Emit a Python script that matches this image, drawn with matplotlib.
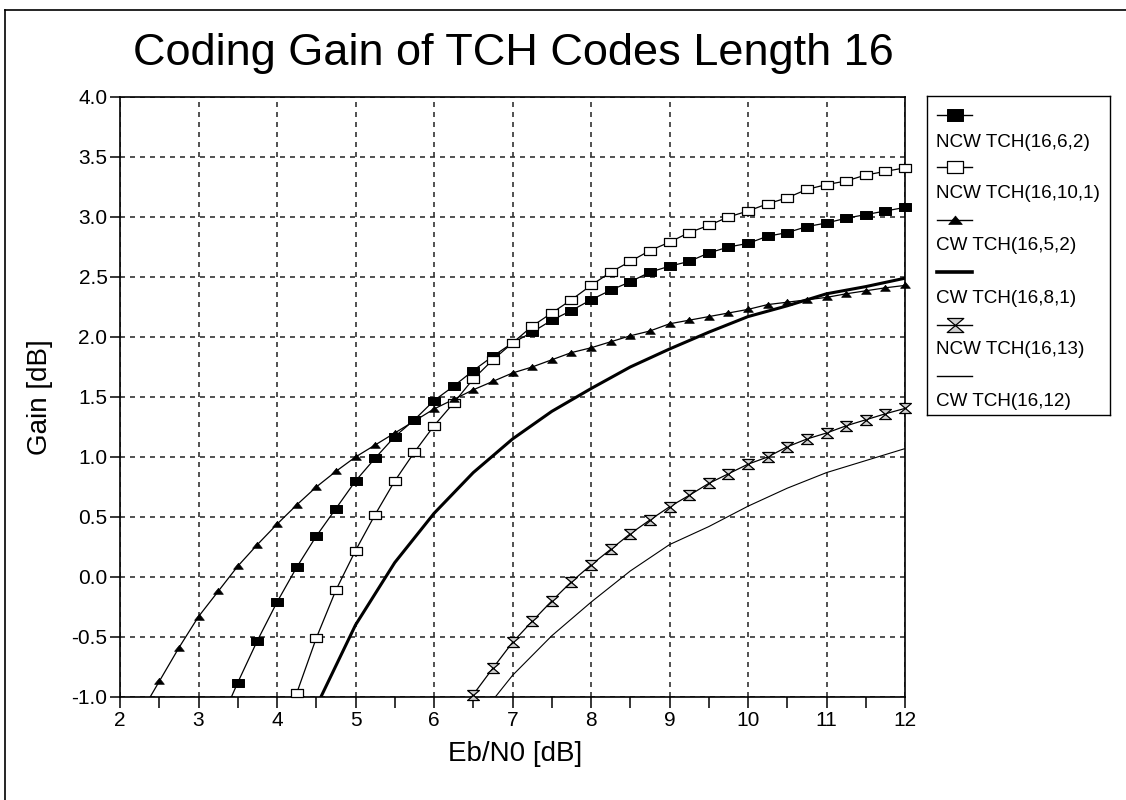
import numpy as np
import matplotlib
matplotlib.use("Agg")
import matplotlib.pyplot as plt
from matplotlib.lines import Line2D

plt.rcParams["font.family"] = ["Liberation Sans", "DejaVu Sans"]

# Eb/N0 [dB] grids and coding gain [dB] per code
x_ncw_6_2 = [3.25, 3.5, 3.75, 4.0, 4.25, 4.5, 4.75, 5.0, 5.25, 5.5, 5.75, 6.0,
             6.25, 6.5, 6.75, 7.0, 7.25, 7.5, 7.75, 8.0, 8.25, 8.5, 8.75, 9.0,
             9.25, 9.5, 9.75, 10.0, 10.25, 10.5, 10.75, 11.0, 11.25, 11.5, 11.75, 12.0]
y_ncw_6_2 = [-1.25, -0.88, -0.53, -0.21, 0.08, 0.34, 0.57, 0.80, 0.99, 1.17, 1.31, 1.47,
             1.59, 1.72, 1.84, 1.95, 2.04, 2.14, 2.22, 2.31, 2.39, 2.46, 2.54, 2.59,
             2.63, 2.70, 2.75, 2.78, 2.84, 2.87, 2.92, 2.95, 2.99, 3.02, 3.05, 3.08]

x_ncw_10_1 = [4.0, 4.25, 4.5, 4.75, 5.0, 5.25, 5.5, 5.75, 6.0, 6.25, 6.5, 6.75,
              7.0, 7.25, 7.5, 7.75, 8.0, 8.25, 8.5, 8.75, 9.0, 9.25, 9.5, 9.75,
              10.0, 10.25, 10.5, 10.75, 11.0, 11.25, 11.5, 11.75, 12.0]
y_ncw_10_1 = [-1.45, -0.97, -0.51, -0.11, 0.22, 0.52, 0.80, 1.04, 1.26, 1.45, 1.65, 1.81,
              1.95, 2.09, 2.20, 2.31, 2.43, 2.54, 2.63, 2.72, 2.79, 2.87, 2.93, 3.00,
              3.05, 3.11, 3.16, 3.23, 3.27, 3.30, 3.35, 3.38, 3.41]

x_cw_5_2 = [2.25, 2.5, 2.75, 3.0, 3.25, 3.5, 3.75, 4.0, 4.25, 4.5, 4.75, 5.0,
            5.25, 5.5, 5.75, 6.0, 6.25, 6.5, 6.75, 7.0, 7.25, 7.5, 7.75, 8.0,
            8.25, 8.5, 8.75, 9.0, 9.25, 9.5, 9.75, 10.0, 10.25, 10.5, 10.75, 11.0,
            11.25, 11.5, 11.75, 12.0]
y_cw_5_2 = [-1.15, -0.87, -0.59, -0.33, -0.12, 0.09, 0.27, 0.44, 0.60, 0.75, 0.88, 1.00,
            1.10, 1.20, 1.30, 1.40, 1.48, 1.56, 1.63, 1.70, 1.75, 1.81, 1.87, 1.91,
            1.96, 2.01, 2.05, 2.11, 2.14, 2.17, 2.20, 2.23, 2.27, 2.29, 2.31, 2.33,
            2.36, 2.385, 2.41, 2.43]

x_cw_8_1 = [4.5, 5.0, 5.5, 6.0, 6.5, 7.0, 7.5, 8.0, 8.5, 9.0, 9.5, 10.0, 10.5, 11.0, 11.5, 12.0]
y_cw_8_1 = [-1.08, -0.40, 0.12, 0.53, 0.87, 1.15, 1.38, 1.57, 1.75, 1.90, 2.04, 2.17,
            2.26, 2.36, 2.42, 2.49]

x_ncw_13 = [6.25, 6.5, 6.75, 7.0, 7.25, 7.5, 7.75, 8.0, 8.25, 8.5, 8.75, 9.0,
            9.25, 9.5, 9.75, 10.0, 10.25, 10.5, 10.75, 11.0, 11.25, 11.5, 11.75, 12.0]
y_ncw_13 = [-1.2, -0.98, -0.76, -0.545, -0.37, -0.20, -0.04, 0.10, 0.23, 0.36, 0.475, 0.585,
            0.68, 0.78, 0.86, 0.94, 1.00, 1.085, 1.15, 1.20, 1.26, 1.31, 1.36, 1.405]

x_cw_12 = [6.5, 7.0, 7.5, 8.0, 8.5, 9.0, 9.5, 10.0, 10.5, 11.0, 11.5, 12.0]
y_cw_12 = [-1.23, -0.82, -0.49, -0.21, 0.05, 0.27, 0.42, 0.59, 0.74, 0.87, 0.97, 1.07]

labels = ["NCW TCH(16,6,2)", "NCW TCH(16,10,1)", "CW TCH(16,5,2)",
          "CW TCH(16,8,1)", "NCW TCH(16,13)", "CW TCH(16,12)"]

# flattened marker shapes
RECT = [(-1.35, -1), (1.35, -1), (1.35, 1), (-1.35, 1), (-1.35, -1)]
TRI = [(-1.3, -0.75), (1.3, -0.75), (0, 0.85), (-1.3, -0.75)]
HOURGLASS = [(-1, 0.85), (1, 0.85), (-1, -0.85), (1, -0.85), (-1, 0.85)]

YMIN, YMAX = -1.0, 4.0

styles = [
    dict(marker=RECT, ms=8, mfc="black", mec="black", mew=0.7, lw=0.9),
    dict(marker=RECT, ms=8.5, mfc="white", mec="black", mew=0.9, lw=0.9),
    dict(marker=TRI, ms=7, mfc="black", mec="black", mew=0.5, lw=0.9),
    dict(marker=None, lw=2.2),
    dict(marker=HOURGLASS, ms=8.5, mfc="0.82", mec="black", mew=0.9, lw=0.9),
    dict(marker=None, lw=0.8),
]
series = [(x_ncw_6_2, y_ncw_6_2), (x_ncw_10_1, y_ncw_10_1), (x_cw_5_2, y_cw_5_2),
          (x_cw_8_1, y_cw_8_1), (x_ncw_13, y_ncw_13), (x_cw_12, y_cw_12)]

W, H = 1126, 800
fig = plt.figure(figsize=(W / 100, H / 100), dpi=100)

L, R, T, B = 120, 905, 97, 697
ax = fig.add_axes([L / W, 1 - B / H, (R - L) / W, (B - T) / H])

for (xs, ys), st in zip(series, styles):
    xs = np.array(xs)
    ys = np.array(ys)
    ax.plot(xs, ys, color="black", lw=st["lw"], zorder=3)
    if st["marker"] is not None:
        keep = ys >= YMIN - 0.03
        ax.plot(xs[keep], ys[keep], ls="none", marker=st["marker"], ms=st["ms"],
                mfc=st["mfc"], mec=st["mec"], mew=st["mew"], zorder=4, clip_on=False)

ax.set_xlim(2, 12)
ax.set_ylim(YMIN, YMAX)
ax.set_xticks(range(2, 13))
ax.set_xticks(np.arange(2.5, 12, 1.0), minor=True)
ax.set_yticks(np.arange(-1.0, 4.01, 0.5))
ax.set_yticklabels(["%.1f" % v for v in np.arange(-1.0, 4.01, 0.5)])
ax.grid(True, which="major", color="0.2", lw=1.2, ls=(0, (3, 3)), zorder=1)
ax.tick_params(which="both", direction="out", length=8, width=1.1, color="black",
               labelsize=15, pad=2)
ax.tick_params(axis="y", length=7)
for sp in ax.spines.values():
    sp.set_linewidth(1.2)

fig.text(513 / W, 1 - 65 / H, "Coding Gain of TCH Codes Length 16",
         ha="center", va="baseline", fontsize=32.5)
fig.text(515 / W, 1 - 761 / H, "Eb/N0 [dB]", ha="center", va="baseline", fontsize=20)
fig.text(40 / W, 1 - 397 / H, "Gain [dB]", ha="center", va="center",
         rotation=90, fontsize=20)

# legend panel: handle on one row, label underneath
lg_l, lg_r, lg_t, lg_b = 927, 1110, 96, 415
lax = fig.add_axes([lg_l / W, 1 - lg_b / H, (lg_r - lg_l) / W, (lg_b - lg_t) / H])
lax.set_xlim(lg_l, lg_r)
lax.set_ylim(lg_b, lg_t)
lax.set_xticks([])
lax.set_yticks([])
for sp in lax.spines.values():
    sp.set_linewidth(1.0)

handle_y = [115, 167, 220, 272, 325, 376]
label_y = [142, 193, 246, 298, 349, 402]
for st, label, hy, ty in zip(styles, labels, handle_y, label_y):
    lax.plot([937, 972], [hy, hy], color="black", lw=2.6 if st["lw"] > 2 else 1.0)
    if st["marker"] is not None:
        lax.plot([955], [hy], ls="none", marker=st["marker"], ms=st["ms"] * 1.4,
                 mfc=st["mfc"], mec=st["mec"], mew=st["mew"])
    lax.text(936, ty, label, ha="left", va="center", fontsize=13.6)

# outer frame
fig.add_artist(Line2D([5 / W, 5 / W], [0, 1 - 10 / H], color="black", lw=1.2,
                      transform=fig.transFigure))
fig.add_artist(Line2D([5 / W, 1], [1 - 10 / H, 1 - 10 / H], color="black", lw=1.2,
                      transform=fig.transFigure))

fig.savefig("out.png", dpi=100)
